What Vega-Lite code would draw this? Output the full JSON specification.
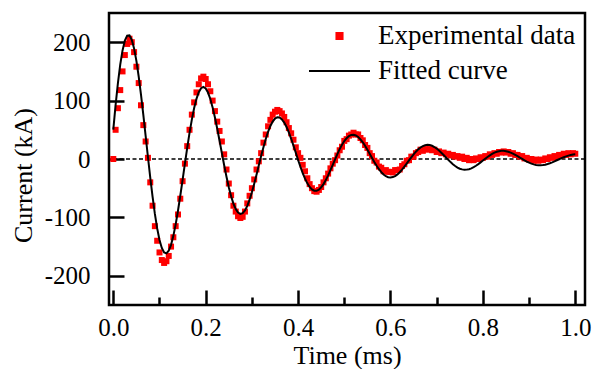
{
"$schema":"https://vega.github.io/schema/vega-lite/v6.json",
"width":476,"height":292,
"autosize":{"type":"none"},
"padding":{"left":109,"top":13,"right":7,"bottom":64},
"background":"white",
"config":{
"view":{"stroke":"black","strokeWidth":2.5},
"font":"Liberation Serif",
"axis":{"domain":false,"grid":false,"labelFont":"Liberation Serif","titleFont":"Liberation Serif","labelColor":"black","titleColor":"black","tickColor":"black","labelFontSize":25,"titleFontSize":26,"titleFontWeight":"normal","tickWidth":2.5,"labelOverlap":false,"labelFlush":false,"labelBound":false}
},
"datasets":{
"exp":[
{"t":0,"I":0},{"t":0.005,"I":50},{"t":0.01,"I":87},{"t":0.015,"I":118},{"t":0.02,"I":150},{"t":0.025,"I":178},{"t":0.03,"I":197},{"t":0.035,"I":206},{"t":0.04,"I":200},{"t":0.045,"I":183},
{"t":0.05,"I":158},{"t":0.055,"I":130},{"t":0.06,"I":92},{"t":0.065,"I":58},{"t":0.07,"I":30},{"t":0.075,"I":2},{"t":0.08,"I":-40},{"t":0.085,"I":-80},{"t":0.09,"I":-115},{"t":0.095,"I":-140},
{"t":0.1,"I":-160},{"t":0.105,"I":-173},{"t":0.11,"I":-178},{"t":0.115,"I":-175},{"t":0.12,"I":-166},{"t":0.125,"I":-150},{"t":0.13,"I":-134},{"t":0.135,"I":-115},{"t":0.14,"I":-95},{"t":0.145,"I":-68},
{"t":0.15,"I":-38},{"t":0.155,"I":-8},{"t":0.16,"I":22},{"t":0.165,"I":50},{"t":0.17,"I":76},{"t":0.175,"I":97},{"t":0.18,"I":114},{"t":0.185,"I":128},{"t":0.19,"I":138},{"t":0.195,"I":141},
{"t":0.2,"I":137},{"t":0.205,"I":128},{"t":0.21,"I":116},{"t":0.215,"I":100},{"t":0.22,"I":82},{"t":0.225,"I":64},{"t":0.23,"I":48},{"t":0.235,"I":30},{"t":0.24,"I":8},{"t":0.245,"I":-18},
{"t":0.25,"I":-42},{"t":0.255,"I":-62},{"t":0.26,"I":-80},{"t":0.265,"I":-90},{"t":0.27,"I":-98},{"t":0.275,"I":-101},{"t":0.28,"I":-99},{"t":0.285,"I":-90},{"t":0.29,"I":-76},{"t":0.295,"I":-63},
{"t":0.3,"I":-50},{"t":0.305,"I":-35},{"t":0.31,"I":-18},{"t":0.315,"I":-4},{"t":0.32,"I":10},{"t":0.325,"I":28},{"t":0.33,"I":42},{"t":0.335,"I":56},{"t":0.34,"I":67},{"t":0.345,"I":76},
{"t":0.35,"I":81},{"t":0.355,"I":84},{"t":0.36,"I":82},{"t":0.365,"I":78},{"t":0.37,"I":72},{"t":0.375,"I":63},{"t":0.38,"I":53},{"t":0.385,"I":44},{"t":0.39,"I":33},{"t":0.395,"I":20},
{"t":0.4,"I":10},{"t":0.405,"I":2},{"t":0.41,"I":-10},{"t":0.415,"I":-21},{"t":0.42,"I":-33},{"t":0.425,"I":-43},{"t":0.43,"I":-50},{"t":0.435,"I":-55},{"t":0.44,"I":-56},{"t":0.445,"I":-53},
{"t":0.45,"I":-48},{"t":0.455,"I":-40},{"t":0.46,"I":-33},{"t":0.465,"I":-25},{"t":0.47,"I":-16},{"t":0.475,"I":-8},{"t":0.48,"I":-2},{"t":0.485,"I":6},{"t":0.49,"I":15},{"t":0.495,"I":21},
{"t":0.5,"I":31},{"t":0.505,"I":34},{"t":0.51,"I":40},{"t":0.515,"I":42},{"t":0.52,"I":45},{"t":0.525,"I":42},{"t":0.53,"I":42},{"t":0.535,"I":36},{"t":0.54,"I":32},{"t":0.545,"I":24},
{"t":0.55,"I":19},{"t":0.555,"I":10},{"t":0.56,"I":5},{"t":0.565,"I":-3},{"t":0.57,"I":-6},{"t":0.575,"I":-13},{"t":0.58,"I":-15},{"t":0.585,"I":-21},{"t":0.59,"I":-19},{"t":0.595,"I":-22},
{"t":0.6,"I":-22},{"t":0.605,"I":-23},{"t":0.61,"I":-19},{"t":0.615,"I":-19},{"t":0.62,"I":-18},{"t":0.625,"I":-12},{"t":0.63,"I":-9},{"t":0.635,"I":-3},{"t":0.64,"I":-2},{"t":0.645,"I":4},
{"t":0.65,"I":4},{"t":0.655,"I":10},{"t":0.66,"I":12},{"t":0.665,"I":16},{"t":0.67,"I":14},{"t":0.675,"I":17},{"t":0.68,"I":16},{"t":0.685,"I":17},{"t":0.69,"I":15},{"t":0.695,"I":16},
{"t":0.7,"I":12},{"t":0.705,"I":13},{"t":0.71,"I":10},{"t":0.715,"I":11},{"t":0.72,"I":8},{"t":0.725,"I":9},{"t":0.73,"I":6},{"t":0.735,"I":7},{"t":0.74,"I":4},{"t":0.745,"I":5},
{"t":0.75,"I":2},{"t":0.755,"I":4},{"t":0.76,"I":0},{"t":0.765,"I":2},{"t":0.77,"I":-2},{"t":0.775,"I":0},{"t":0.78,"I":-2},{"t":0.785,"I":1},{"t":0.79,"I":0},{"t":0.795,"I":3},
{"t":0.8,"I":2},{"t":0.805,"I":5},{"t":0.81,"I":4},{"t":0.815,"I":8},{"t":0.82,"I":7},{"t":0.825,"I":10},{"t":0.83,"I":9},{"t":0.835,"I":12},{"t":0.84,"I":11},{"t":0.845,"I":13},
{"t":0.85,"I":11},{"t":0.855,"I":12},{"t":0.86,"I":9},{"t":0.865,"I":10},{"t":0.87,"I":7},{"t":0.875,"I":7},{"t":0.88,"I":4},{"t":0.885,"I":5},{"t":0.89,"I":1},{"t":0.895,"I":2},
{"t":0.9,"I":-1},{"t":0.905,"I":0},{"t":0.91,"I":-3},{"t":0.915,"I":-1},{"t":0.92,"I":-3},{"t":0.925,"I":-1},{"t":0.93,"I":-2},{"t":0.935,"I":1},{"t":0.94,"I":0},{"t":0.945,"I":3},
{"t":0.95,"I":2},{"t":0.955,"I":5},{"t":0.96,"I":4},{"t":0.965,"I":7},{"t":0.97,"I":6},{"t":0.975,"I":9},{"t":0.98,"I":7},{"t":0.985,"I":10},{"t":0.99,"I":8},{"t":0.995,"I":10},{"t":1,"I":9}
],
"fit":[
{"t":0,"I":50.3},{"t":0.005,"I":92.7},{"t":0.01,"I":130.1},{"t":0.015,"I":161.6},{"t":0.02,"I":185.9},{"t":0.025,"I":202.6},{"t":0.03,"I":211.2},{"t":0.035,"I":211.6},{"t":0.04,"I":204.2},{"t":0.045,"I":189.4},
{"t":0.05,"I":168.1},{"t":0.055,"I":141.2},{"t":0.06,"I":110.0},{"t":0.065,"I":75.7},{"t":0.07,"I":39.7},{"t":0.075,"I":3.4},{"t":0.08,"I":-31.8},{"t":0.085,"I":-64.6},{"t":0.09,"I":-94.0},{"t":0.095,"I":-118.9},
{"t":0.1,"I":-138.6},{"t":0.105,"I":-152.4},{"t":0.11,"I":-160.2},{"t":0.115,"I":-161.7},{"t":0.12,"I":-157.1},{"t":0.125,"I":-147.0},{"t":0.13,"I":-131.6},{"t":0.135,"I":-111.9},{"t":0.14,"I":-88.6},{"t":0.145,"I":-62.9},
{"t":0.15,"I":-35.6},{"t":0.155,"I":-8.0},{"t":0.16,"I":19.1},{"t":0.165,"I":44.6},{"t":0.17,"I":67.5},{"t":0.175,"I":87.2},{"t":0.18,"I":103.0},{"t":0.185,"I":114.4},{"t":0.19,"I":121.3},{"t":0.195,"I":123.4},
{"t":0.2,"I":120.8},{"t":0.205,"I":113.8},{"t":0.21,"I":102.8},{"t":0.215,"I":88.4},{"t":0.22,"I":71.1},{"t":0.225,"I":51.8},{"t":0.23,"I":31.2},{"t":0.235,"I":10.1},{"t":0.24,"I":-10.6},{"t":0.245,"I":-30.3},
{"t":0.25,"I":-48.2},{"t":0.255,"I":-63.8},{"t":0.26,"I":-76.4},{"t":0.265,"I":-85.8},{"t":0.27,"I":-91.7},{"t":0.275,"I":-94.0},{"t":0.28,"I":-92.7},{"t":0.285,"I":-88.0},{"t":0.29,"I":-80.2},{"t":0.295,"I":-69.7},
{"t":0.3,"I":-56.9},{"t":0.305,"I":-42.5},{"t":0.31,"I":-26.9},{"t":0.315,"I":-10.8},{"t":0.32,"I":5.1},{"t":0.325,"I":20.3},{"t":0.33,"I":34.2},{"t":0.335,"I":46.5},{"t":0.34,"I":56.6},{"t":0.345,"I":64.2},
{"t":0.35,"I":69.2},{"t":0.355,"I":71.5},{"t":0.36,"I":71.0},{"t":0.365,"I":67.9},{"t":0.37,"I":62.4},{"t":0.375,"I":54.8},{"t":0.38,"I":45.4},{"t":0.385,"I":34.6},{"t":0.39,"I":22.8},{"t":0.395,"I":10.6},
{"t":0.4,"I":-1.6},{"t":0.405,"I":-13.3},{"t":0.41,"I":-24.1},{"t":0.415,"I":-33.7},{"t":0.42,"I":-41.7},{"t":0.425,"I":-47.9},{"t":0.43,"I":-52.2},{"t":0.435,"I":-54.3},{"t":0.44,"I":-54.4},{"t":0.445,"I":-52.4},
{"t":0.45,"I":-48.5},{"t":0.455,"I":-43.0},{"t":0.46,"I":-36.1},{"t":0.465,"I":-28.0},{"t":0.47,"I":-19.2},{"t":0.475,"I":-9.9},{"t":0.48,"I":-0.6},{"t":0.485,"I":8.4},{"t":0.49,"I":16.9},{"t":0.495,"I":24.4},
{"t":0.5,"I":30.7},{"t":0.505,"I":35.7},{"t":0.51,"I":39.2},{"t":0.515,"I":41.2},{"t":0.52,"I":41.5},{"t":0.525,"I":40.3},{"t":0.53,"I":37.7},{"t":0.535,"I":33.7},{"t":0.54,"I":28.6},{"t":0.545,"I":22.6},
{"t":0.55,"I":15.9},{"t":0.555,"I":8.9},{"t":0.56,"I":1.8},{"t":0.565,"I":-5.1},{"t":0.57,"I":-11.6},{"t":0.575,"I":-17.5},{"t":0.58,"I":-22.6},{"t":0.585,"I":-26.6},{"t":0.59,"I":-29.5},{"t":0.595,"I":-31.2},
{"t":0.6,"I":-31.7},{"t":0.605,"I":-31.0},{"t":0.61,"I":-29.2},{"t":0.615,"I":-26.3},{"t":0.62,"I":-22.6},{"t":0.625,"I":-18.1},{"t":0.63,"I":-13.2},{"t":0.635,"I":-7.9},{"t":0.64,"I":-2.4},{"t":0.645,"I":2.9},
{"t":0.65,"I":7.9},{"t":0.655,"I":12.5},{"t":0.66,"I":16.5},{"t":0.665,"I":19.7},{"t":0.67,"I":22.1},{"t":0.675,"I":23.6},{"t":0.68,"I":24.2},{"t":0.685,"I":23.8},{"t":0.69,"I":22.6},{"t":0.695,"I":20.5},
{"t":0.7,"I":17.8},{"t":0.705,"I":14.5},{"t":0.71,"I":10.8},{"t":0.715,"I":6.8},{"t":0.72,"I":2.7},{"t":0.725,"I":-1.4},{"t":0.73,"I":-5.3},{"t":0.735,"I":-8.9},{"t":0.74,"I":-12.0},{"t":0.745,"I":-14.6},
{"t":0.75,"I":-16.6},{"t":0.755,"I":-17.8},{"t":0.76,"I":-18.4},{"t":0.765,"I":-18.2},{"t":0.77,"I":-17.4},{"t":0.775,"I":-16.0},{"t":0.78,"I":-14.0},{"t":0.785,"I":-11.6},{"t":0.79,"I":-8.8},{"t":0.795,"I":-5.8},
{"t":0.8,"I":-2.6},{"t":0.805,"I":0.5},{"t":0.81,"I":3.5},{"t":0.815,"I":6.3},{"t":0.82,"I":8.7},{"t":0.825,"I":10.8},{"t":0.83,"I":12.4},{"t":0.835,"I":13.4},{"t":0.84,"I":14.0},{"t":0.845,"I":14.0},
{"t":0.85,"I":13.4},{"t":0.855,"I":12.4},{"t":0.86,"I":11.0},{"t":0.865,"I":9.2},{"t":0.87,"I":7.1},{"t":0.875,"I":4.9},{"t":0.88,"I":2.5},{"t":0.885,"I":0.1},{"t":0.89,"I":-2.2},{"t":0.895,"I":-4.4},
{"t":0.9,"I":-6.3},{"t":0.905,"I":-7.9},{"t":0.91,"I":-9.2},{"t":0.915,"I":-10.1},{"t":0.92,"I":-10.6},{"t":0.925,"I":-10.7},{"t":0.93,"I":-10.4},{"t":0.935,"I":-9.7},{"t":0.94,"I":-8.6},{"t":0.945,"I":-7.3},
{"t":0.95,"I":-5.8},{"t":0.955,"I":-4.0},{"t":0.96,"I":-2.2},{"t":0.965,"I":-0.4},{"t":0.97,"I":1.4},{"t":0.975,"I":3.0},{"t":0.98,"I":4.5},{"t":0.985,"I":5.8},{"t":0.99,"I":6.9},{"t":0.995,"I":7.6},{"t":1,"I":8.0}
]
},
"layer":[
{"data":{"values":[{}]},"mark":{"type":"rule","color":"black","strokeWidth":1.5,"strokeDash":[4,2.5]},"encoding":{"y":{"datum":0,"type":"quantitative"}}},
{"data":{"name":"exp"},"mark":{"type":"square","size":36,"opacity":1},
"encoding":{
"x":{"field":"t","type":"quantitative","scale":{"domain":[-0.0093,1.021],"nice":false,"zero":false},
"axis":{"values":[0,0.1,0.2,0.3,0.4,0.5,0.6,0.7,0.8,0.9,1],"tickSize":{"condition":{"test":"round(datum.value*10) % 2 === 0","value":-15},"value":-8},"labelExpr":"round(datum.value*10) % 2 === 0 ? format(datum.value, '.1f') : ''","labelPadding":25,"title":"Time (ms)","titleY":58,"titleBaseline":"alphabetic"}},
"y":{"field":"I","type":"quantitative","scale":{"domain":[-250,250],"nice":false,"zero":false},
"axis":{"values":[-200,-150,-100,-50,0,50,100,150,200],"tickSize":{"condition":{"test":"datum.value % 100 === 0","value":-15},"value":-8},"labelExpr":"datum.value % 100 === 0 ? '' + datum.value : ''","labelPadding":34,"title":"Current (kA)","titleX":-77.5,"titleY":162,"titleBaseline":"alphabetic","titleAlign":"center","titleAngle":270}},
"color":{"datum":"Experimental data","type":"nominal","scale":{"domain":["Experimental data","Fitted curve"],"range":["#ff0000","#000000"]},
"legend":{"orient":"none","legendX":199,"legendY":10,"title":null,"padding":0,"symbolSize":3721,"labelFontSize":27,"labelFont":"Liberation Serif","labelColor":"black","labelOffset":7,"rowPadding":8,"clipHeight":26,"labelLimit":400,
"encode":{"symbols":{"update":{"shape":{"signal":"datum.value === 'Fitted curve' ? 'stroke' : 'M-0.1,-0.1H0.1V0.1H-0.1Z'"},"size":{"value":3721},"fill":{"signal":"datum.value === 'Fitted curve' ? 'transparent' : '#ff0000'"},"stroke":{"signal":"datum.value === 'Fitted curve' ? '#000000' : 'transparent'"},"strokeWidth":{"value":2},"opacity":{"value":1}}}}}}
}},
{"data":{"name":"fit"},"mark":{"type":"line","strokeWidth":2},
"encoding":{"x":{"field":"t","type":"quantitative"},"y":{"field":"I","type":"quantitative"},"color":{"datum":"Fitted curve","type":"nominal",
"legend":{"orient":"none","legendX":199,"legendY":10,"title":null,"padding":0,"symbolSize":3721,"labelFontSize":27,"labelFont":"Liberation Serif","labelColor":"black","labelOffset":7,"rowPadding":8,"clipHeight":26,"labelLimit":400,
"encode":{"symbols":{"update":{"shape":{"signal":"datum.value === 'Fitted curve' ? 'stroke' : 'M-0.1,-0.1H0.1V0.1H-0.1Z'"},"size":{"value":3721},"fill":{"signal":"datum.value === 'Fitted curve' ? 'transparent' : '#ff0000'"},"stroke":{"signal":"datum.value === 'Fitted curve' ? '#000000' : 'transparent'"},"strokeWidth":{"value":2},"opacity":{"value":1}}}}}}}}
]
}
